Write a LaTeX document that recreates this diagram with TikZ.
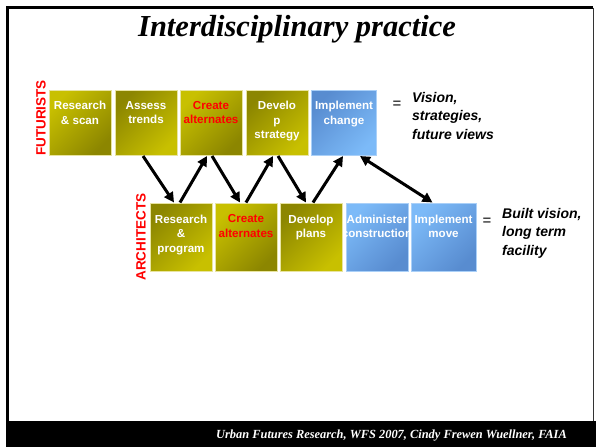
\documentclass[tikz,border=0pt]{standalone}
\usepackage{fontspec}
\setmainfont{Liberation Serif}
\setsansfont{Liberation Sans}
\usetikzlibrary{arrows.meta}

\definecolor{olivedark}{RGB}{140,134,0}
\definecolor{olivelight}{RGB}{200,192,0}
\definecolor{olivebord}{RGB}{232,228,160}
\definecolor{bluedark}{RGB}{88,140,208}
\definecolor{bluelight}{RGB}{124,186,248}
\definecolor{bluebord}{RGB}{170,208,248}

\tikzset{
  box/.style={minimum width=62pt, minimum height=65pt, inner sep=0pt, line width=1pt},
  oliveLD/.style={box, draw=olivebord, top color=olivelight, bottom color=olivedark, shading angle=45},
  oliveDL/.style={box, draw=olivebord, top color=olivedark, bottom color=olivelight, shading angle=45},
  blueLD/.style={box, draw=bluebord, top color=bluelight, bottom color=bluedark, shading angle=45},
  blueDL/.style={box, draw=bluebord, top color=bluedark, bottom color=bluelight, shading angle=45},
  boxtext/.style={anchor=north, inner sep=0pt, align=center, text=white,
    font=\sffamily\bfseries\fontsize{11.6}{14.5}\selectfont},
  redtext/.style={boxtext, text=red},
  sidetag/.style={rotate=90, text=red, inner sep=0pt, font=\sffamily\bfseries\fontsize{13.5}{16}\selectfont},
  result/.style={anchor=north west, inner sep=0pt, align=left,
    font=\sffamily\bfseries\itshape\fontsize{14}{18.5}\selectfont},
  equals/.style={inner sep=0pt, font=\sffamily\fontsize{15}{18}\selectfont},
  link/.style={line width=3pt, -{Triangle[length=10pt,width=10pt]}},
  twolink/.style={line width=3pt, {Triangle[length=10pt,width=10pt]}-{Triangle[length=10pt,width=10pt]}}
}

\def\slidearea{(0,0) rectangle (596,447)}

\begin{document}
\begin{tikzpicture}[x=1pt,y=-1pt]
  \useasboundingbox \slidearea;
  \fill[white] \slidearea;
  % slide frame
  \draw[line width=3pt, black] (7.5,421) -- (7.5,7.5) -- (593,7.5);
  \draw[line width=1pt, black!80] (593,7.5) -- (593,421);
  \fill[black] (6,421) rectangle (596,447);
  \node[inner sep=0pt, font=\bfseries\itshape\fontsize{30.5}{34}\selectfont] (title) at (297,29) {Interdisciplinary practice};
  \node[anchor=east, inner sep=0pt, text=white, font=\bfseries\itshape\fontsize{12.4}{14}\selectfont] (footer) at (567,436) {Urban Futures Research, WFS 2007, Cindy Frewen Wuellner, FAIA};

  % futurists row
  \node[sidetag] (futurists) at (41,118) {FUTURISTS};
  \node[oliveLD] (research) at (80,123) {};
  \node[oliveDL] (assess) at (146,123) {};
  \node[oliveLD] (createF) at (211,123) {};
  \node[oliveDL] (strategy) at (277,123) {};
  \node[blueDL, minimum width=65pt] (change) at (344,123) {};
  \node[boxtext] at ([yshift=-11pt]research.north) {Research\\\& scan};
  \node[boxtext] at ([yshift=-11pt]assess.north) {Assess\\trends};
  \node[redtext] at ([yshift=-11pt]createF.north) {Create\\alternates};
  \node[boxtext] at ([yshift=-11pt]strategy.north) {Develo\\p\\strategy};
  \node[boxtext] at ([yshift=-11pt]change.north) {Implement\\change};
  \node[equals] (eqF) at (397,105) {=};
  \node[result] (vision) at (412,92) {Vision,\\strategies,\\future views};

  % architects row
  \node[sidetag] (architects) at (141,237) {ARCHITECTS};
  \node[oliveDL, minimum height=68pt] (program) at (181,237) {};
  \node[oliveLD, minimum height=68pt] (createA) at (246,237) {};
  \node[oliveDL, minimum height=68pt] (plans) at (311,237) {};
  \node[blueLD, minimum height=68pt] (administer) at (377,237) {};
  \node[blueLD, minimum height=68pt, minimum width=65pt] (move) at (443.5,237) {};
  \node[boxtext] at ([yshift=-12pt]program.north) {Research\\\&\\program};
  \node[redtext] at ([yshift=-12pt]createA.north) {Create\\alternates};
  \node[boxtext] at ([yshift=-12pt]plans.north) {Develop\\plans};
  \begin{scope}
    \clip (administer.south west) rectangle (administer.north east);
    \node[boxtext] at ([yshift=-12pt]administer.north) {Administer\\construction};
  \end{scope}
  \node[boxtext] at ([yshift=-12pt]move.north) {Implement\\move};
  \node[equals] (eqA) at (487,222) {=};
  \node[result] (built) at (502,208) {Built vision,\\long term\\facility};

  % connectors
  \draw[link] ([xshift=-3pt]assess.south) -- ([xshift=-7pt]program.north);
  \draw[link] ([xshift=-1pt]program.north) -- ([xshift=-4pt]createF.south);
  \draw[link] ([xshift=1pt]createF.south) -- ([xshift=-6pt]createA.north);
  \draw[link] (createA.north) -- ([xshift=-4pt]strategy.south);
  \draw[link] ([xshift=1pt]strategy.south) -- ([xshift=-5pt]plans.north);
  \draw[link] ([xshift=2pt]plans.north) -- ([xshift=-1pt]change.south);
  \draw[twolink] ([xshift=16pt]change.south) -- ([xshift=-11pt]move.north);
\end{tikzpicture}
\end{document}
